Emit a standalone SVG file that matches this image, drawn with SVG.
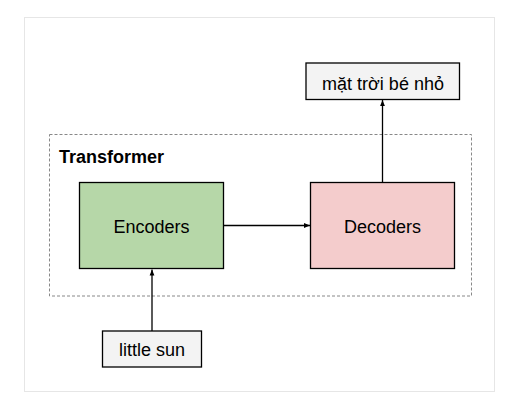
<svg xmlns="http://www.w3.org/2000/svg" width="529" height="402" viewBox="0 0 529 402">
<style>
.t{font-family:"Liberation Sans",Arial,sans-serif;font-size:18px;fill:#000;text-anchor:middle}
.box{stroke:#000;stroke-width:1.3}
.edge{stroke:#000;stroke-width:1.3;fill:none;marker-end:url(#ah)}
</style>
<defs>
<marker id="ah" viewBox="0 0 10 10" refX="10" refY="5" markerWidth="6" markerHeight="6" markerUnits="userSpaceOnUse" orient="auto">
<path d="M0,1 L10,5 L0,9 z" fill="#000"/>
</marker>
</defs>
<rect x="0" y="0" width="529" height="402" fill="#fff"/>
<rect x="24.5" y="17.5" width="470" height="374" fill="none" stroke="#e6e6e6" stroke-width="1"/>
<g id="transformer">
<rect x="49.5" y="134.5" width="422" height="161.5" fill="none" stroke="#888" stroke-width="1" stroke-dasharray="3,2"/>
<text x="59" y="163" style="font-family:'Liberation Sans',Arial,sans-serif;font-size:18px;font-weight:bold">Transformer</text>
</g>
<g id="output">
<rect class="box" x="306" y="63" width="153.5" height="36.5" fill="#f3f3f3"/>
<text class="t" x="383" y="89.5">mặt trời bé nhỏ</text>
</g>
<g id="encoders">
<rect class="box" x="79.5" y="182.5" width="144" height="86" fill="#b6d7a8"/>
<text class="t" x="151.5" y="232.5">Encoders</text>
</g>
<g id="decoders">
<rect class="box" x="310.5" y="182.5" width="144" height="86" fill="#f4cccc"/>
<text class="t" x="382.5" y="232.5">Decoders</text>
</g>
<g id="input">
<rect class="box" x="102.5" y="331" width="99" height="36" fill="#f3f3f3"/>
<text class="t" x="152" y="356">little sun</text>
</g>
<g id="connectors">
<line class="edge" x1="152" y1="331" x2="152" y2="269.5"/>
<line class="edge" x1="223.5" y1="225.5" x2="310" y2="225.5"/>
<line class="edge" x1="382.5" y1="182.5" x2="382.5" y2="100"/>
</g>
</svg>
